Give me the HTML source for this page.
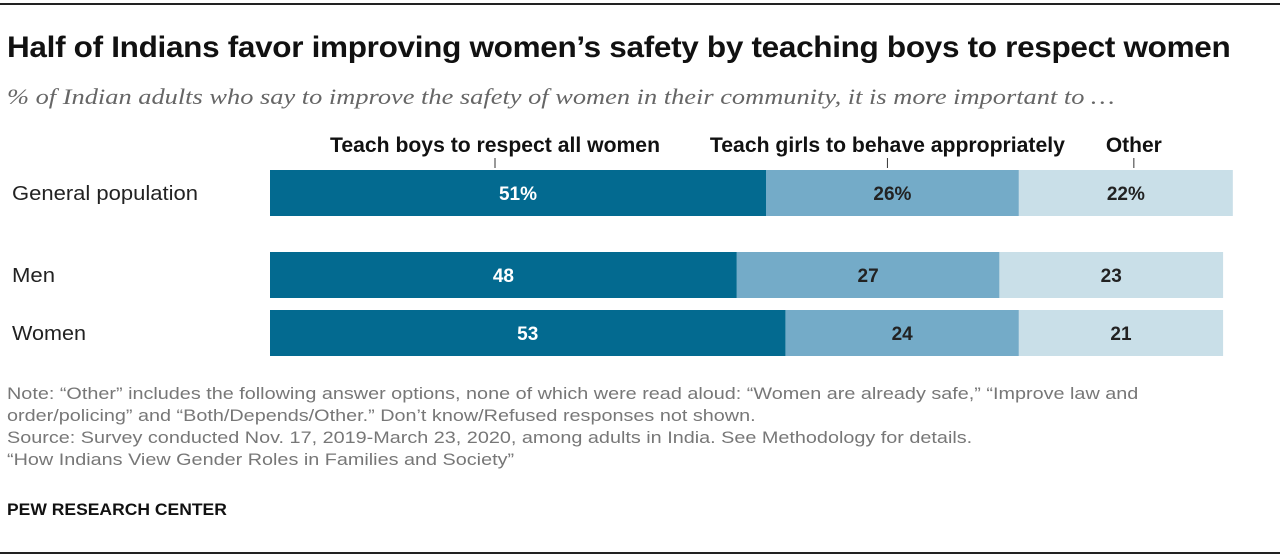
<!DOCTYPE html>
<html><head><meta charset="utf-8"><style>
body{margin:0;width:1280px;height:560px;background:#fff;font-family:"Liberation Sans",sans-serif;position:relative;overflow:hidden}
.t{position:absolute;white-space:nowrap;transform-origin:0 0}
</style></head><body>
<div style="position:absolute;left:0;top:3px;width:1280px;height:2px;background:#222"></div>
<div class="t" style="left:7px;top:31px;font-size:30px;font-weight:bold;color:#111;letter-spacing:-0.3px;transform:scaleX(1.05)">Half of Indians favor improving women’s safety by teaching boys to respect women</div>
<div class="t" style="left:7px;top:84px;font-family:'Liberation Serif',serif;font-style:italic;font-size:22px;color:#666;transform:scaleX(1.2)">% of Indian adults who say to improve the safety of women in their community, it is more important to …</div>
<svg id="chart" style="position:absolute;left:0;top:0" width="1280" height="560"></svg>
<div class="t" style="left:7px;top:383px;font-size:17px;line-height:22px;color:#777;transform:scaleX(1.165)">Note: “Other” includes the following answer options, none of which were read aloud: “Women are already safe,” “Improve law and<br>order/policing” and “Both/Depends/Other.” Don’t know/Refused responses not shown.<br>Source: Survey conducted Nov. 17, 2019-March 23, 2020, among adults in India. See Methodology for details.<br>“How Indians View Gender Roles in Families and Society”</div>
<div class="t" style="left:7px;top:500px;font-size:17px;font-weight:bold;color:#111;transform:scaleX(1.03)">PEW RESEARCH CENTER</div>
<div style="position:absolute;left:0;top:552px;width:1280px;height:2px;background:#222"></div>
<script>
const categories=["General population","Men","Women"];
const seriesNames=["Teach boys to respect all women","Teach girls to behave appropriately","Other"];
const boys=[51,48,53];
const girls=[26,27,24];
const other=[22,23,21];
const valueLabels=[["51%","26%","22%"],["48","27","23"],["53","24","21"]];
const svg=document.getElementById('chart');
const NS='http://www.w3.org/2000/svg';
const x0=270,scale=496/51;
const xs=v=>x0+v*scale;
const rowY=[170,252,310],barH=46;
const colors=["#036a90","#74abc8","#c9dfe8"];
const textCol=["#fff","#222","#222"];
const catWidths=[186,43,74];
const headerOffsets=[-23,-5,8];
const headerWidths=[330,355,56];
function mk(tag,attrs){const e=document.createElementNS(NS,tag);for(const k in attrs)e.setAttribute(k,attrs[k]);svg.appendChild(e);return e;}
const series=[boys,girls,other];
categories.forEach((c,i)=>{
  const lab=mk('text',{x:12,y:rowY[i]+barH/2+7,'font-size':20,fill:'#222',textLength:catWidths[i],lengthAdjust:'spacingAndGlyphs'});
  
  
  lab.textContent=c;
  let cum=0;
  series.forEach((s,j)=>{
    const a=xs(cum),b=xs(cum+s[i]);
    const r=mk('rect',{x:a,y:rowY[i],width:b-a,height:barH,fill:colors[j]});
    
    
    const t=mk('text',{x:(a+b)/2,y:rowY[i]+barH/2+7,'font-size':19,'font-weight':'bold','text-anchor':'middle',fill:textCol[j]});
    
    
    t.textContent=valueLabels[i][j];
    cum+=s[i];
  });
});
let cum=0;
series.forEach((s,j)=>{
  const a=xs(cum),b=xs(cum+s[0]);const m=(a+b)/2+headerOffsets[j];
  const t=mk('text',{x:m,y:152,'font-size':21,'font-weight':'bold','text-anchor':'middle',fill:'#111',textLength:headerWidths[j],lengthAdjust:'spacingAndGlyphs'});
  
  
  t.textContent=seriesNames[j];
  const l=mk('line',{x1:m,x2:m,y1:158,y2:168,stroke:'#333','stroke-width':1});
  
  
  cum+=s[0];
});
</script>
</body></html>
